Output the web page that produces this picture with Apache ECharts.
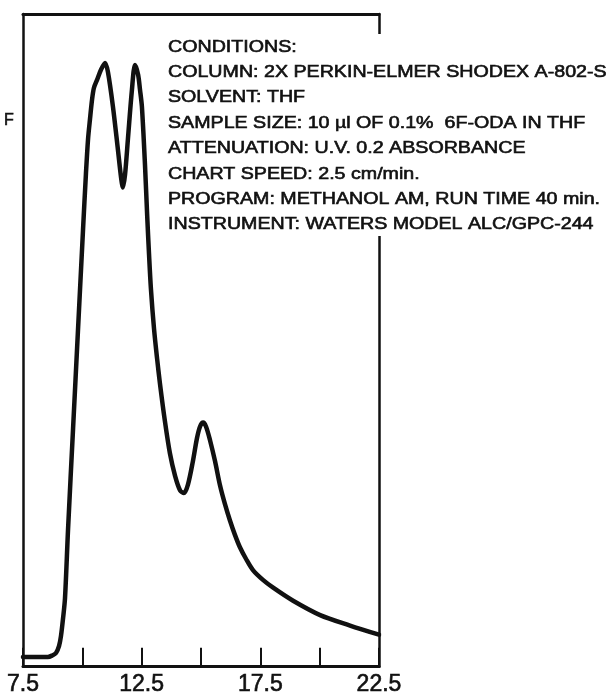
<!DOCTYPE html>
<html>
<head>
<meta charset="utf-8">
<script src="https://cdn.jsdelivr.net/npm/echarts@6/dist/echarts.min.js"></script>
<style>
  html, body { margin: 0; padding: 0; background: #fff; }
  #chart { width: 612px; height: 696px; }
</style>
</head>
<body>
<div id="chart"></div>
<script>
// GPC trace: elution volume (x) vs detector response (y, relative units)
const elution = [7.5, 8.0, 8.55, 8.72, 8.89, 9.02, 9.10, 9.19, 9.27, 9.40, 9.61, 9.82,
  10.03, 10.15, 10.24, 10.32, 10.41, 10.49, 10.62, 10.79, 10.96,
  11.08, 11.29, 11.50, 11.63, 11.71, 11.80, 11.92, 12.09, 12.22, 12.35, 12.43, 12.51,
  12.64, 12.73, 12.81, 12.89, 13.02, 13.15, 13.27, 13.48, 13.69, 13.91, 14.12, 14.28,
  14.45, 14.66, 14.83, 14.96, 15.09, 15.21, 15.38, 15.59, 15.80, 16.01, 16.22, 16.43,
  16.64, 16.90, 17.19, 17.61, 18.04, 18.88, 20.02, 21.28, 22.5];
const response = [1.5, 1.5, 1.5, 1.7, 2.1, 3.2, 4.7, 7.5, 10.5, 21.2, 36.5, 51.8,
  67.0, 75.4, 80.8, 83.8, 86.9, 88.7, 89.9, 91.5, 92.5,
  91.1, 85.8, 79.2, 75.0, 73.4, 75.4, 80.8, 88.4, 92.2, 90.7, 88.4, 85.8,
  76.9, 69.3, 63.2, 57.9, 51.8, 47.2, 43.4, 37.6, 32.7, 29.2, 27.0, 26.6,
  27.9, 31.5, 35.0, 36.8, 37.4, 36.8, 34.7, 31.5, 27.8, 24.9, 22.4, 20.2,
  18.3, 16.5, 14.8, 13.3, 12.1, 10.1, 7.9, 6.3, 4.9];

// axis ticks every 2.5, labels every 5
const xTickLabels = ['7.5', '12.5', '17.5', '22.5'];
const yAxisLabel = 'F';

const conditions = [
  'CONDITIONS:',
  'COLUMN: 2X PERKIN-ELMER SHODEX A-802-S',
  'SOLVENT: THF',
  'SAMPLE SIZE: 10 \u00b5l OF 0.1%  6F-ODA IN THF',
  'ATTENUATION: U.V. 0.2 ABSORBANCE',
  'CHART SPEED: 2.5 cm/min.',
  'PROGRAM: METHANOL AM, RUN TIME 40 min.',
  'INSTRUMENT: WATERS MODEL ALC/GPC-244'
];

const ink = '#111';
const font = '"Liberation Sans", Arial, sans-serif';
const chart = echarts.init(document.getElementById('chart'), null, { renderer: 'canvas' });

const frameAxis = (extra) => Object.assign({
  type: 'value', min: 0, max: 100,
  axisLine: { show: true, onZero: false, lineStyle: { color: ink, width: 2.5 } },
  axisTick: { show: false }, axisLabel: { show: false }, splitLine: { show: false }
}, extra);

const textEls = conditions.map((t, i) => ({
  type: 'text',
  x: 168, y: 47 + 25.4 * i,
  scaleX: 1.19,
  z: 20,
  style: {
    text: t,
    font: '16.5px ' + font,
    fill: ink,
    stroke: ink,
    lineWidth: 0.6,
    verticalAlign: 'middle'
  }
}));

chart.setOption({
  animation: false,
  backgroundColor: '#fff',
  grid: { left: 23, right: 233, top: 14, bottom: 27 },
  xAxis: [
    {
      type: 'value', min: 7.5, max: 22.5, interval: 2.5, position: 'bottom',
      axisLine: { show: true, onZero: false, lineStyle: { color: ink, width: 3 } },
      axisTick: { show: true, inside: true, length: 19, lineStyle: { color: ink, width: 2 } },
      axisLabel: {
        margin: 6, color: ink, fontSize: 23, fontFamily: font,
        textBorderColor: ink, textBorderWidth: 0.6,
        formatter: v => {
          const s = String(v);
          return xTickLabels.indexOf(s) >= 0 ? s : '';
        }
      },
      splitLine: { show: false }
    },
    {
      type: 'value', min: 7.5, max: 22.5, position: 'top',
      axisLine: { show: true, onZero: false, lineStyle: { color: ink, width: 3 } },
      axisTick: { show: false }, axisLabel: { show: false }, splitLine: { show: false }
    }
  ],
  yAxis: [
    frameAxis({ position: 'left' }),
    frameAxis({ position: 'right' })
  ],
  series: [{
    type: 'line',
    xAxisIndex: 0, yAxisIndex: 0,
    data: elution.map((x, i) => [x, response[i]]),
    showSymbol: false,
    smooth: 0.3,
    lineStyle: { color: ink, width: 4.5, cap: 'round', join: 'round' },
    z: 5
  }],
  graphic: [
    // blank panel behind the run conditions (interrupts the right frame)
    { type: 'rect', z: 15, shape: { x: 165, y: 34, width: 447, height: 202 }, style: { fill: '#fff' } },
    {
      type: 'text', x: 4, y: 121, z: 20,
      style: { text: yAxisLabel, font: '16px ' + font, fill: ink, stroke: ink, lineWidth: 0.6, verticalAlign: 'middle' }
    }
  ].concat(textEls)
});
</script>
</body>
</html>
